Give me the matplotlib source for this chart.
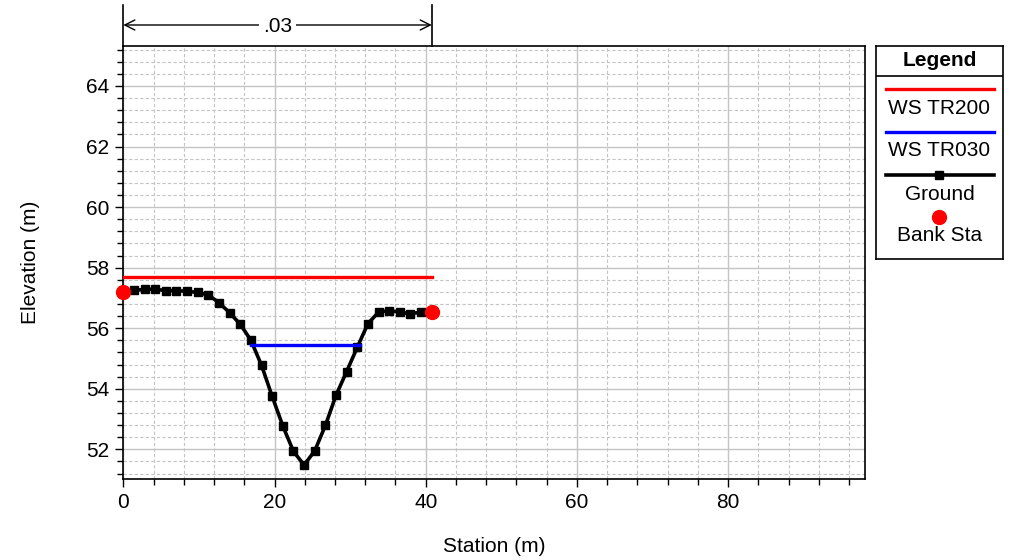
import matplotlib
matplotlib.use("Agg")
import matplotlib.pyplot as plt
from matplotlib.ticker import MultipleLocator
import matplotlib.transforms as mtransforms

plt.rcParams['font.family'] = ['Liberation Sans', 'DejaVu Sans']

# ground profile
ground_sta = [0.0, 1.41, 2.81, 4.22, 5.63, 7.03, 8.44, 9.85, 11.25, 12.66,
              14.07, 15.47, 16.88, 18.29, 19.69, 21.1, 22.51, 23.91, 25.32, 26.73,
              28.13, 29.54, 30.95, 32.35, 33.76, 35.17, 36.57, 37.98, 39.39, 40.8]
ground_elev = [57.2, 57.25, 57.28, 57.29, 57.24, 57.24, 57.22, 57.18, 57.1, 56.84,
               56.51, 56.13, 55.6, 54.77, 53.75, 52.77, 51.93, 51.48, 51.95, 52.79,
               53.78, 54.57, 55.37, 56.15, 56.53, 56.58, 56.53, 56.48, 56.53, 56.54]

ws_tr200_sta = [0.0, 40.8]
ws_tr200_elev = [57.68, 57.68]
ws_tr030_sta = [16.9, 31.3]
ws_tr030_elev = [55.46, 55.46]

bank_sta = [0.0, 40.8]
bank_elev = [57.2, 56.54]

manning_label = ".03"
legend_labels = ["WS TR200", "WS TR030", "Ground", "Bank Sta"]

W, H = 1012, 560
FS = 15
fig = plt.figure(figsize=(W / 100, H / 100), dpi=100)
ax = fig.add_axes([123.3 / W, 1 - 479 / H, (865 - 123.3) / W, (479 - 46) / H])

grid_col = "#c4c4c4"
ax.xaxis.set_major_locator(MultipleLocator(20))
ax.xaxis.set_minor_locator(MultipleLocator(4))
ax.yaxis.set_major_locator(MultipleLocator(2))
ax.yaxis.set_minor_locator(MultipleLocator(0.4))
ax.grid(which="major", color=grid_col, lw=1.0, ls="-", zorder=0)
ax.grid(which="minor", color=grid_col, lw=0.8, ls=(0, (3, 2)), zorder=0)
ax.set_axisbelow(True)

ax.plot(ws_tr200_sta, ws_tr200_elev, color="#ff0000", lw=2.4, zorder=3)
ax.plot(ground_sta, ground_elev, color="black", lw=2.6, marker="s", ms=5.5, zorder=4)
ax.plot(ws_tr030_sta, ws_tr030_elev, color="#0000ff", lw=2.4, zorder=5)
ax.plot(bank_sta, bank_elev, ls="none", marker="o", ms=10, color="#ff0000", zorder=6,
        clip_on=False)

ax.set_xlim(0, 98.1)
ax.set_ylim(51.02, 65.32)
ax.tick_params(which="major", direction="out", length=6, width=1, labelsize=FS, pad=4)
ax.tick_params(which="minor", direction="out", length=4, width=1)
ax.tick_params(top=False, right=False, which="both")
for s in ax.spines.values():
    s.set_linewidth(1.2)
ax.set_xlabel("Station (m)", fontsize=FS, labelpad=18)
ax.set_ylabel("Elevation (m)", fontsize=FS, labelpad=33)

# roughness annotation above the plot
tr = mtransforms.blended_transform_factory(ax.transData, fig.transFigure)
y_top = 1 - 5 / H
y_arr = 1 - 25 / H
for xs in bank_sta:
    ax.plot([xs, xs], [1 - 46 / H, y_top], color="black", lw=1.2, transform=tr, clip_on=False)
ax.annotate("", xy=(bank_sta[0], y_arr), xytext=(bank_sta[1], y_arr),
            xycoords=tr, textcoords=tr,
            arrowprops=dict(arrowstyle="<->", color="black", lw=1.0,
                            shrinkA=0, shrinkB=0, mutation_scale=18))
ax.text(sum(bank_sta) / 2, y_arr - 2 / H, manning_label, transform=tr, ha="center", va="center",
        fontsize=FS, bbox=dict(fc="white", ec="none", pad=3))

# legend box
lg = fig.add_axes([876 / W, 1 - 259.3 / H, (1003.3 - 876) / W, (259.3 - 46) / H])
lg.set_xlim(876, 1003.3)
lg.set_ylim(259.3, 46)
lg.set_xticks([])
lg.set_yticks([])
for s in lg.spines.values():
    s.set_linewidth(1.2)
lg.axhline(76, color="black", lw=1.2)
cx = 939.5
lg.text(cx, 60, "Legend", ha="center", va="center", fontsize=FS, fontweight="bold")
lg.plot([886, 994], [89.3, 89.3], color="#ff0000", lw=2.4)
lg.text(cx, 108, legend_labels[0], ha="center", va="center", fontsize=FS)
lg.plot([886, 994], [131.7, 131.7], color="#0000ff", lw=2.4)
lg.text(cx, 150.5, legend_labels[1], ha="center", va="center", fontsize=FS)
lg.plot([886, 994], [175, 175], color="black", lw=2.6)
lg.plot([cx], [175], color="black", marker="s", ms=5.5)
lg.text(cx, 194.5, legend_labels[2], ha="center", va="center", fontsize=FS)
lg.plot([cx], [216.7], color="#ff0000", marker="o", ms=10)
lg.text(cx, 235.5, legend_labels[3], ha="center", va="center", fontsize=FS)

fig.savefig("out.png", dpi=100)
